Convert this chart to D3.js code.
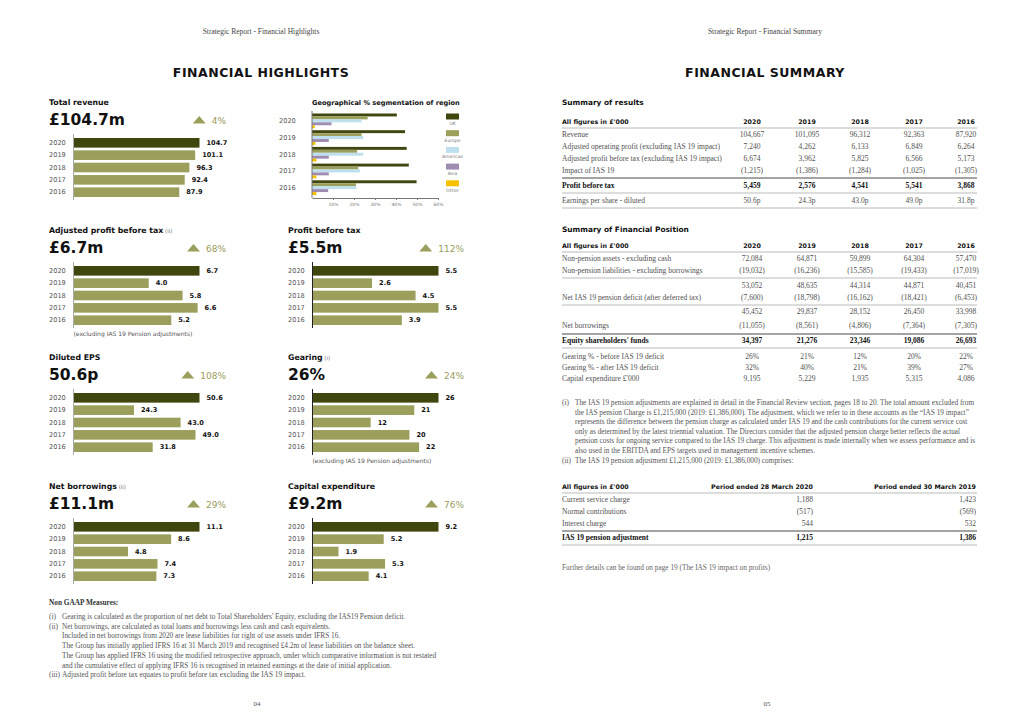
<!DOCTYPE html>
<html>
<head>
<meta charset="utf-8">
<script src="https://cdn.jsdelivr.net/npm/d3@7"></script>
<style>
  body { margin: 0; background: #fff; }
  svg { display: block; }
  .sans { font-family: "DejaVu Sans", sans-serif; }
  .serif { font-family: "Liberation Serif", serif; }
</style>
</head>
<body>
<svg id="page" width="1024" height="724"></svg>
<script>
// ---- data ----
const years = ["2020", "2019", "2018", "2017", "2016"];

const revenue = [104.7, 101.1, 96.3, 92.4, 87.9];
const adjustedProfit = [6.7, 4.0, 5.8, 6.6, 5.2];
const profitBeforeTax = [5.5, 2.6, 4.5, 5.5, 3.9];
const dilutedEps = [50.6, 24.3, 43.0, 49.0, 31.8];
const gearing = [26, 21, 12, 20, 22];
const netBorrowings = [11.1, 8.6, 4.8, 7.4, 7.3];
const capex = [9.2, 5.2, 1.9, 5.3, 4.1];

const regions = ["UK", "Europe", "Americas", "Asia", "Other"];
const geoUK = [40.4, 44.3, 45.1, 46.1, 49.8];
const geoEurope = [26.5, 23.6, 21.5, 22.0, 20.9];
const geoAmericas = [23.6, 24.4, 24.4, 22.8, 21.2];
const geoAsia = [9.3, 8.0, 8.0, 8.0, 7.7];
const geoOther = [1.3, 1.6, 2.1, 2.1, 2.1];
const geoTicks = [10, 20, 30, 40, 50, 60];

const resultsLabels = [
  "Revenue",
  "Adjusted operating profit (excluding IAS 19 impact)",
  "Adjusted profit before tax (excluding IAS 19 impact)",
  "Impact of IAS 19",
  "Profit before tax",
  "Earnings per share - diluted"
];
const resultsValues = [
  ["104,667", "101,095", "96,312", "92,363", "87,920"],
  ["7,240", "4,262", "6,133", "6,849", "6,264"],
  ["6,674", "3,962", "5,825", "6,566", "5,173"],
  ["(1,215)", "(1,386)", "(1,284)", "(1,025)", "(1,305)"],
  ["5,459", "2,576", "4,541", "5,541", "3,868"],
  ["50.6p", "24.3p", "43.0p", "49.0p", "31.8p"]
];

const positionLabels = [
  "Non-pension assets - excluding cash",
  "Non-pension liabilities - excluding borrowings",
  "",
  "Net IAS 19 pension deficit (after deferred tax)",
  "",
  "Net borrowings",
  "Equity shareholders' funds",
  "Gearing % - before IAS 19 deficit",
  "Gearing % - after IAS 19 deficit",
  "Capital expenditure £'000"
];
const positionValues = [
  ["72,084", "64,871", "59,899", "64,304", "57,470"],
  ["(19,032)", "(16,236)", "(15,585)", "(19,433)", "(17,019)"],
  ["53,052", "48,635", "44,314", "44,871", "40,451"],
  ["(7,600)", "(18,798)", "(16,162)", "(18,421)", "(6,453)"],
  ["45,452", "29,837", "28,152", "26,450", "33,998"],
  ["(11,055)", "(8,561)", "(4,806)", "(7,364)", "(7,305)"],
  ["34,397", "21,276", "23,346", "19,086", "26,693"],
  ["26%", "21%", "12%", "20%", "22%"],
  ["32%", "40%", "21%", "39%", "27%"],
  ["9,195", "5,229", "1,935", "5,315", "4,086"]
];

const pensionPeriods = ["Period ended 28 March 2020", "Period ended 30 March 2019"];
const pensionLabels = ["Current service charge", "Normal contributions", "Interest charge", "IAS 19 pension adjustment"];
const pensionValues = [
  ["1,188", "1,423"],
  ["(517)", "(569)"],
  ["544", "532"],
  ["1,215", "1,386"]
];

const leftNotes = [
  ["(i)", "Gearing is calculated as the proportion of net debt to Total Shareholders' Equity, excluding the IAS19 Pension deficit."],
  ["(ii)", "Net borrowings, are calculated as total loans and borrowings less cash and cash equivalents."],
  ["", "Included in net borrowings from 2020 are lease liabilities for right of use assets under IFRS 16."],
  ["", "The Group has initially applied IFRS 16 at 31 March 2019 and recognised £4.2m of lease liabilities on the balance sheet."],
  ["", "The Group has applied IFRS 16 using the modified retrospective approach, under which comparative information is not restated"],
  ["", "and the cumulative effect of applying IFRS 16 is recognised in retained earnings at the date of initial application."],
  ["(iii)", "Adjusted profit before tax equates to profit before tax excluding the IAS 19 impact."]
];
const rightNotes = [
  ["(i)", "The IAS 19 pension adjustments are explained in detail in the Financial Review section, pages 18 to 20. The total amount excluded from"],
  ["", "the IAS pension Charge is £1,215,000 (2019: £1,386,000). The adjustment, which we refer to in these accounts as the \u201CIAS 19 impact\u201D"],
  ["", "represents the difference between the pension charge as calculated under IAS 19 and the cash contributions for the current service cost"],
  ["", "only as determined by the latest triennial valuation. The Directors consider that the adjusted pension charge better reflects the actual"],
  ["", "pension costs for ongoing service compared to the IAS 19 charge. This adjustment is made internally when we assess performance and is"],
  ["", "also used in the EBITDA and EPS targets used in management incentive schemes."],
  ["(ii)", "The IAS 19 pension adjustment £1,215,000 (2019: £1,386,000) comprises:"]
];

// ---- colours ----
const DARK = "#41460f";
const OLIVE = "#9c9f5c";
const OLIVE_TEXT = "#9a9c5c";
const geoColors = [DARK, OLIVE, "#bddfee", "#9f8db1", "#f8c100"];

const svg = d3.select("#page");
svg.append("rect").attr("width", 1024).attr("height", 724).attr("fill", "#fff");

// ---- page headers ----
function pageHeader(cx, running, title) {
  svg.append("text").attr("class", "serif").attr("x", cx).attr("y", 34)
    .attr("text-anchor", "middle").style("font-size", "7.5px").attr("fill", "#444").text(running);
  svg.append("text").attr("class", "sans").attr("x", cx).attr("y", 77)
    .attr("text-anchor", "middle").style("font-size", "12.5px").style("font-weight", "bold")
    .style("letter-spacing", "0.5px").attr("fill", "#111").text(title);
}
pageHeader(261, "Strategic Report - Financial Highlights", "FINANCIAL HIGHLIGHTS");
pageHeader(765, "Strategic Report - Financial Summary", "FINANCIAL SUMMARY");

// ---- bar panels ----
function barPanel(p) {
  const g = svg.append("g");
  const axisX = p.x0 + 24.5;
  const T = p.top;

  const t = g.append("text").attr("class", "sans").attr("x", p.x0).attr("y", T + 3)
    .style("font-size", "7.8px").style("font-weight", "bold").attr("fill", "#111").text(p.title);
  if (p.note) {
    t.append("tspan").style("font-weight", "normal").style("font-size", "5.5px")
      .attr("fill", "#777").text(" " + p.note);
  }

  g.append("text").attr("class", "sans").attr("x", p.x0).attr("y", T + 23)
    .style("font-size", "15.5px").style("font-weight", "bold").attr("fill", "#111").text(p.big);

  const ch = g.append("text").attr("class", "sans").attr("x", p.x0 + p.changeRight).attr("y", T + 21.5)
    .attr("text-anchor", "end").style("font-size", "9px").attr("fill", OLIVE_TEXT).text(p.change);
  const chStart = p.x0 + p.changeRight - ch.node().getComputedTextLength();
  const tr = chStart - 6;
  g.append("path")
    .attr("d", `M${tr - 13},${T + 21.5}L${tr},${T + 21.5}L${tr - 6.5},${T + 14}Z`)
    .attr("fill", OLIVE);

  const x = d3.scaleLinear().domain([0, d3.max(p.values)]).range([0, 126]);
  const y = d3.scaleBand().domain(years).range([T + 36, T + 95]).paddingInner(0.22);

  g.selectAll(".bar").data(p.values).join("rect").attr("class", "bar")
    .attr("x", axisX).attr("y", (d, i) => y(years[i]))
    .attr("width", d => x(d)).attr("height", y.bandwidth())
    .attr("fill", (d, i) => i === 0 ? DARK : OLIVE);

  g.selectAll(".yr").data(years).join("text").attr("class", "yr sans")
    .attr("x", p.x0).attr("y", d => y(d) + y.bandwidth() / 2 + 2.3)
    .style("font-size", "6.6px").attr("fill", "#555").text(d => d);

  g.selectAll(".val").data(p.values).join("text").attr("class", "val sans")
    .attr("x", d => axisX + x(d) + 7).attr("y", (d, i) => y(years[i]) + y.bandwidth() / 2 + 2.3)
    .style("font-size", "6.6px").style("font-weight", "bold").attr("fill", "#111")
    .text(d => p.fmt(d));

  g.append("line").attr("x1", axisX).attr("x2", axisX).attr("y1", T + 32).attr("y2", T + 98)
    .attr("stroke", p.axisColor).attr("stroke-width", 1);

  if (p.footer) {
    g.append("text").attr("class", "sans").attr("x", axisX).attr("y", T + 106)
      .style("font-size", "6px").attr("fill", "#555").text(p.footer);
  }
}

const f1 = d3.format(".1f");
const f0 = d3.format("d");
const LX = 49, RX = 288;
const excl = "(excluding IAS 19 Pension adjustments)";

barPanel({ x0: LX, top: 102, title: "Total revenue", big: "£104.7m", change: "4%", changeRight: 177,
  values: revenue, fmt: f1, axisColor: "#aaa" });
barPanel({ x0: LX, top: 230, title: "Adjusted profit before tax", note: "(ii)", big: "£6.7m", change: "68%", changeRight: 177,
  values: adjustedProfit, fmt: f1, axisColor: "#aaa", footer: excl });
barPanel({ x0: RX, top: 230, title: "Profit before tax", big: "£5.5m", change: "112%", changeRight: 176,
  values: profitBeforeTax, fmt: f1, axisColor: "#222" });
barPanel({ x0: LX, top: 357, title: "Diluted EPS", big: "50.6p", change: "108%", changeRight: 177,
  values: dilutedEps, fmt: f1, axisColor: "#aaa" });
barPanel({ x0: RX, top: 357, title: "Gearing", note: "(i)", big: "26%", change: "24%", changeRight: 176,
  values: gearing, fmt: f0, axisColor: "#222", footer: excl });
barPanel({ x0: LX, top: 486, title: "Net borrowings", note: "(ii)", big: "£11.1m", change: "29%", changeRight: 177,
  values: netBorrowings, fmt: f1, axisColor: "#aaa" });
barPanel({ x0: RX, top: 486, title: "Capital expenditure", big: "£9.2m", change: "76%", changeRight: 176,
  values: capex, fmt: f1, axisColor: "#222" });

// ---- geographical segmentation ----
const geo = svg.append("g");
geo.append("text").attr("class", "sans").attr("x", 312).attr("y", 105)
  .style("font-size", "6.6px").style("font-weight", "bold").attr("fill", "#111")
  .text("Geographical % segmentation of region");

const geoX = d3.scaleLinear().domain([0, 60]).range([312, 438]);
const geoY = d3.scaleBand().domain(years).range([113.5, 195]).paddingInner(0.12);
const geoSub = d3.scaleBand().domain(regions).range([0, geoY.bandwidth()]);
const geoSeries = [geoUK, geoEurope, geoAmericas, geoAsia, geoOther];

regions.forEach((r, i) => {
  geo.selectAll(".geo-" + r).data(geoSeries[i]).join("rect").attr("class", "geo-" + r)
    .attr("x", geoX(0)).attr("y", (d, j) => geoY(years[j]) + geoSub(r))
    .attr("width", d => geoX(d) - geoX(0)).attr("height", geoSub.bandwidth())
    .attr("fill", geoColors[i]);
});

geo.selectAll(".gyr").data(years).join("text").attr("class", "gyr sans")
  .attr("x", 279).attr("y", d => geoY(d) + geoY.bandwidth() / 2 + 2.3)
  .style("font-size", "6.6px").attr("fill", "#555").text(d => d);

geo.append("line").attr("x1", 312).attr("x2", 312).attr("y1", 111).attr("y2", 198)
  .attr("stroke", "#777");

const geoAxis = geo.append("g").attr("transform", "translate(0,198)")
  .call(d3.axisBottom(geoX).tickValues(geoTicks).tickFormat(d => d + "%").tickSize(2).tickSizeOuter(0));
geoAxis.select(".domain").attr("stroke", "#777");
geoAxis.selectAll(".tick line").attr("stroke", "#777");
geoAxis.selectAll("text").attr("class", "sans").style("font-size", "4.5px").attr("fill", "#777");

const legY = d3.scaleBand().domain(regions).range([113.5, 195]).paddingInner(0.12);
const leg = geo.selectAll(".leg").data(regions).join("g").attr("class", "leg");
leg.append("rect").attr("x", 446).attr("y", d => legY(d)).attr("width", 13).attr("height", 6)
  .attr("fill", (d, i) => geoColors[i]);
leg.append("text").attr("class", "sans").attr("x", 452.5).attr("y", d => legY(d) + 11.5)
  .attr("text-anchor", "middle").style("font-size", "4.5px").attr("fill", "#777").text(d => d);

// ---- left footnotes ----
const NOTE_SIZE = "7.3px";
svg.append("text").attr("class", "serif").attr("x", 49).attr("y", 605)
  .style("font-size", NOTE_SIZE).style("font-weight", "bold").attr("fill", "#333").text("Non GAAP Measures:");
const ln = svg.selectAll(".lnote").data(leftNotes).join("g").attr("class", "lnote")
  .attr("transform", (d, i) => `translate(0,${619 + i * 9.7})`);
ln.append("text").attr("class", "serif").attr("x", 49).style("font-size", NOTE_SIZE).attr("fill", "#555").text(d => d[0]);
ln.append("text").attr("class", "serif").attr("x", 62).style("font-size", NOTE_SIZE).attr("fill", "#555").text(d => d[1]);

// ---- tables ----
const colCenters = [752, 807, 860, 914, 966];
const TL = 562, TR = 977;
const CELL_SIZE = "7.5px";

function hline(y, dark) {
  svg.append("line").attr("x1", TL).attr("x2", TR).attr("y1", y).attr("y2", y)
    .attr("stroke", dark ? "#333" : "#aaa").attr("stroke-width", dark ? 0.9 : 0.8);
}

function sectionTitle(y, text) {
  svg.append("text").attr("class", "sans").attr("x", TL).attr("y", y)
    .style("font-size", "7.4px").style("font-weight", "bold").attr("fill", "#111").text(text);
}

function tableHeader(y, cols, xs, anchor) {
  svg.append("text").attr("class", "sans").attr("x", TL).attr("y", y)
    .style("font-size", "6.3px").style("font-weight", "bold").attr("fill", "#111").text("All figures in £'000");
  svg.selectAll(null).data(cols).join("text").attr("class", "sans")
    .attr("x", (d, i) => xs[i]).attr("y", y).attr("text-anchor", anchor)
    .style("font-size", "6.3px").style("font-weight", "bold").attr("fill", "#111").text(d => d);
}

function tableRows(labels, values, ys, boldRows, xs, anchor) {
  const rows = svg.selectAll(null).data(labels).join("g")
    .attr("transform", (d, i) => `translate(0,${ys[i]})`);
  rows.append("text").attr("class", "serif").attr("x", TL)
    .style("font-size", CELL_SIZE).attr("fill", (d, i) => boldRows.includes(i) ? "#111" : "#505050")
    .style("font-weight", (d, i) => boldRows.includes(i) ? "bold" : "normal").text(d => d);
  rows.each(function (d, i) {
    d3.select(this).selectAll("text.num").data(values[i]).join("text").attr("class", "num serif")
      .attr("x", (v, j) => xs[j]).attr("text-anchor", anchor)
      .style("font-size", CELL_SIZE).attr("fill", boldRows.includes(i) ? "#111" : "#505050")
      .style("font-weight", boldRows.includes(i) ? "bold" : "normal").text(v => v);
  });
}

// summary of results
sectionTitle(105, "Summary of results");
tableHeader(124, years, colCenters, "middle");
hline(128, false);
tableRows(resultsLabels, resultsValues, [137, 149, 161, 173, 188, 203], [4], colCenters, "middle");
hline(178, true);
hline(193, false);
hline(208, false);

// summary of financial position
sectionTitle(232, "Summary of Financial Position");
tableHeader(248, years, colCenters, "middle");
hline(252, false);
tableRows(positionLabels, positionValues, [261, 273, 288, 300, 314, 328, 343, 359, 370, 381], [6], colCenters, "middle");
hline(278, false);
hline(305, false);
hline(334, true);
hline(348, false);

// right footnotes
const rn = svg.selectAll(".rnote").data(rightNotes).join("g").attr("class", "rnote")
  .attr("transform", (d, i) => `translate(0,${405 + i * 9.6})`);
rn.append("text").attr("class", "serif").attr("x", TL).style("font-size", NOTE_SIZE).attr("fill", "#555").text(d => d[0]);
rn.append("text").attr("class", "serif").attr("x", 575).style("font-size", NOTE_SIZE).attr("fill", "#555").text(d => d[1]);

// pension adjustment table
const pensionX = [813, 976];
tableHeader(489, pensionPeriods, pensionX, "end");
hline(493, false);
tableRows(pensionLabels, pensionValues, [502, 514, 526, 540], [3], pensionX, "end");
hline(531, true);
hline(545, false);

svg.append("text").attr("class", "serif").attr("x", TL).attr("y", 570)
  .style("font-size", NOTE_SIZE).attr("fill", "#666")
  .text("Further details can be found on page 19 (The IAS 19 impact on profits)");

// page numbers
svg.append("text").attr("class", "serif").attr("x", 257).attr("y", 706).attr("text-anchor", "middle")
  .style("font-size", "7px").attr("fill", "#555").text("04");
svg.append("text").attr("class", "serif").attr("x", 767).attr("y", 706).attr("text-anchor", "middle")
  .style("font-size", "7px").attr("fill", "#555").text("05");
</script>
</body>
</html>
